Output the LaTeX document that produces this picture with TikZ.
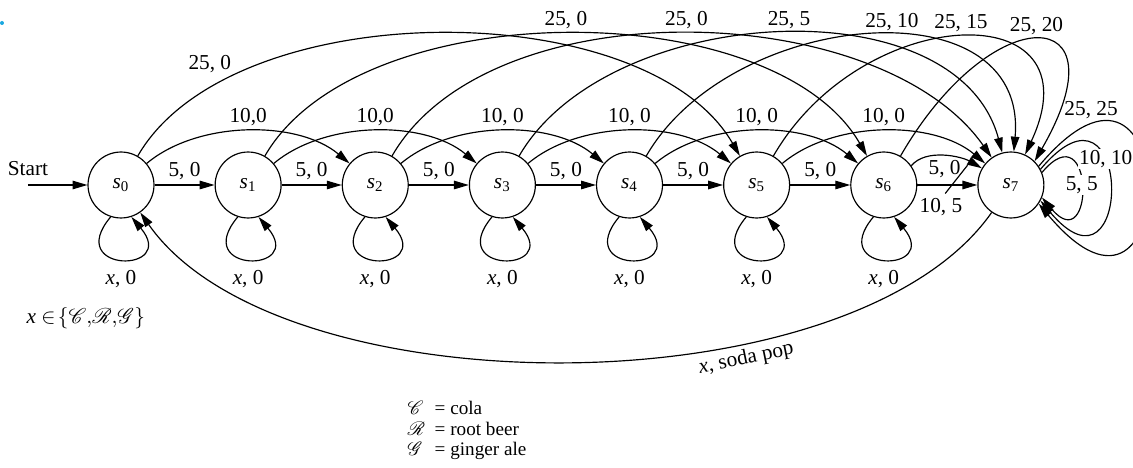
\documentclass[tikz,border=0pt]{standalone}
\usepackage{fontspec}
\setmainfont{Liberation Serif}
\usepackage{mathrsfs}
\usetikzlibrary{positioning,arrows.meta}
\definecolor{figblue}{HTML}{1BA8E0}
\tikzset{
  state/.style={circle,draw,minimum size=31pt,inner sep=0pt},
  arr/.style={-{Triangle[length=7pt,width=4pt]}},
  lbl/.style={inner sep=2pt},
  selfloop/.style={arr,to path={(\tikztostart.-108) .. controls +(-130:74) and +(-50:74) .. (\tikztostart.-72) \tikztonodes}}
}
\newcommand{\stname}[1]{\textit{s}\textsubscript{#1}}

\begin{document}
\begin{tikzpicture}[x=0.47pt,y=0.47pt,node distance=28.2pt,line width=0.55pt]
  \useasboundingbox (-121,-282) rectangle (1012,185);
  \fill[figblue] (-119,162) circle (2);
  % states
  \node[state] (s0) at (0,0) {\stname{0}};
  \node[state,right=of s0] (s1) {\stname{1}};
  \node[state,right=of s1] (s2) {\stname{2}};
  \node[state,right=of s2] (s3) {\stname{3}};
  \node[state,right=of s3] (s4) {\stname{4}};
  \node[state,right=of s4] (s5) {\stname{5}};
  \node[state,right=of s5] (s6) {\stname{6}};
  \node[state,right=of s6] (s7) {\stname{7}};
  \coordinate (start) at (-93,0);
  \draw[arr] (start) node[lbl,above=2pt] {Start} -- (s0);
  % nickel
  \path (s0) edge[arr] node[lbl,above] {5, 0} (s1);
  \path (s1) edge[arr] node[lbl,above] {5, 0} (s2);
  \path (s2) edge[arr] node[lbl,above] {5, 0} (s3);
  \path (s3) edge[arr] node[lbl,above] {5, 0} (s4);
  \path (s4) edge[arr] node[lbl,above] {5, 0} (s5);
  \path (s5) edge[arr] node[lbl,above] {5, 0} (s6);
  \path (s6) edge[arr] node[lbl,below=4pt,xshift=-3pt] (l105) {10, 5} (s7);
  \path (s6.35) edge[arr,out=50,in=150,looseness=0.84] node[lbl,below] (l50) {5, 0} (s7.150);
  \draw ([xshift=2pt]l105.north) -- ([xshift=1pt,yshift=2pt]l50.east);
  % dime
  \path (s0.40) edge[arr,out=40,in=140,looseness=0.85] node[lbl,above] {10,0} (s2.140);
  \path (s1.40) edge[arr,out=40,in=140,looseness=0.85] node[lbl,above] {10,0} (s3.140);
  \path (s2.40) edge[arr,out=40,in=140,looseness=0.85] node[lbl,above] {10, 0} (s4.140);
  \path (s3.40) edge[arr,out=40,in=140,looseness=0.85] node[lbl,above] {10, 0} (s5.140);
  \path (s4.40) edge[arr,out=40,in=140,looseness=0.85] node[lbl,above] {10, 0} (s6.140);
  \path (s5.40) edge[arr,out=40,in=140,looseness=0.85] node[lbl,above] {10, 0} (s7.140);
  % quarter
  \path (s0.60) edge[arr,out=60,in=120,looseness=0.8] node[lbl,above left,pos=0.2,xshift=4pt] {25, 0} (s5.120);
  \path (s1.60) edge[arr,out=60,in=120,looseness=0.8] node[lbl,above] {25, 0} (s6.120);
  \path (s2.60) edge[arr,out=60,in=125,looseness=0.83] node[lbl,above] {25, 0} (s7.125);
  \path (s3.60) edge[arr,out=60,in=105,looseness=0.93] node[lbl,above,pos=0.52] {25, 5} (s7.105);
  \path (s4.60) edge[arr,out=60,in=85,looseness=1.18] node[lbl,above,pos=0.55] {25, 10} (s7.85);
  \path (s5.60) edge[arr,out=60,in=65,looseness=1.81] node[lbl,above] {25, 15} (s7.65);
  \path (s6.60) edge[arr,out=60,in=60,looseness=3.5] node[lbl,above] {25, 20} (s7.45);
  % loops
  \path (s0) edge[selfloop] node[lbl,below=3pt] {\textit{x}, 0} (s0);
  \path (s1) edge[selfloop] node[lbl,below=3pt] {\textit{x}, 0} (s1);
  \path (s2) edge[selfloop] node[lbl,below=3pt] {\textit{x}, 0} (s2);
  \path (s3) edge[selfloop] node[lbl,below=3pt] {\textit{x}, 0} (s3);
  \path (s4) edge[selfloop] node[lbl,below=3pt] {\textit{x}, 0} (s4);
  \path (s5) edge[selfloop] node[lbl,below=3pt] {\textit{x}, 0} (s5);
  \path (s6) edge[selfloop] node[lbl,below=3pt] {\textit{x}, 0} (s6);
  \path (s7.22) edge[arr,out=50,in=-50,looseness=8.4] node[lbl,fill=white,inner sep=0.5pt] {5, 5} (s7.-22);
  \path (s7.28) edge[arr,out=50,in=-50,looseness=11.8] node[lbl,fill=white,inner sep=0.5pt,pos=0.37] {10, 10} (s7.-28);
  \path (s7.34) edge[arr,out=50,in=-50,looseness=15.4] node[lbl,above,pos=0.14] {25, 25} (s7.-34);
  % vend
  \path (s7) edge[arr,out=-125,in=-55,looseness=0.73] node[lbl,below,sloped,pos=0.33] {\textit{x}, soda pop} (s0);
  % notes
  \node[anchor=west] (xset) at (-102,-133) {\textit{x} $\in\!\{\mathscr{C},\!\mathscr{R},\!\mathscr{G}\}$};
  \node[anchor=west,font=\fontsize{9}{9.6}\selectfont] (legend) at (279,-246) {%
    \begin{tabular}{@{}l@{\ \ }l@{}}
      $\mathscr{C}$ & = cola\\
      $\mathscr{R}$ & = root beer\\
      $\mathscr{G}$ & = ginger ale
    \end{tabular}};
\end{tikzpicture}
\end{document}
